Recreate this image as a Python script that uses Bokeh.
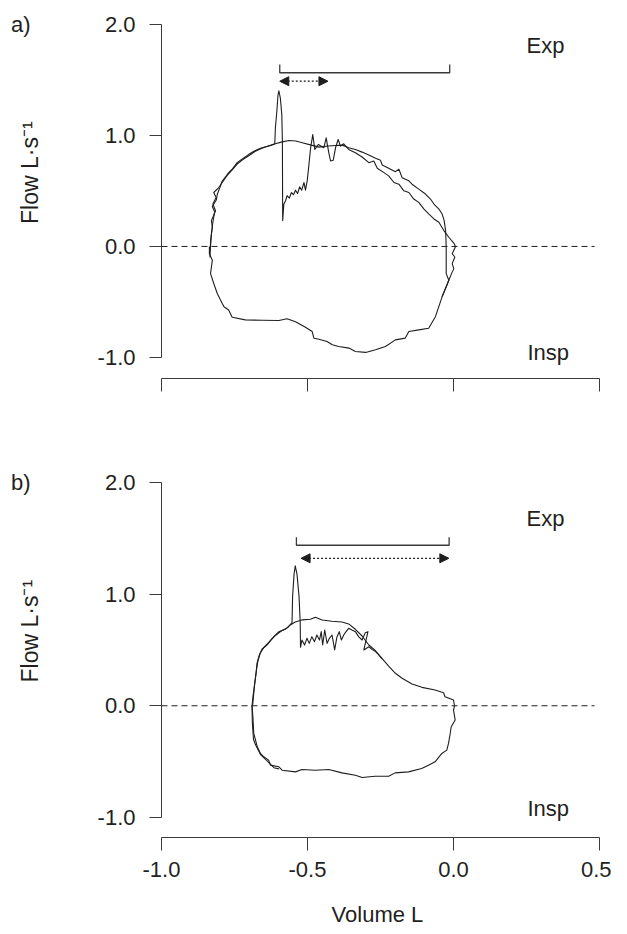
from bokeh.plotting import figure
from bokeh.models import Range1d, FixedTicker, PrintfTickFormatter, Label, Arrow, NormalHead, LinearAxis
from bokeh.layouts import column
from bokeh.embed import file_html
from bokeh.resources import INLINE

# ---------------- data ----------------
y_ticks = [-1.0, 0.0, 1.0, 2.0]
x_ticks = [-1.0, -0.5, 0.0, 0.5]
zero_line_v = [-1.0, 0.483]
zero_line_f = [0.0, 0.0]

ctrl_a_v = [-0.836, -0.832, -0.829, -0.824, -0.818, -0.826, -0.812, -0.809, -0.800, -0.792,
            -0.780, -0.770, -0.757, -0.741, -0.722, -0.701, -0.682, -0.661, -0.640, -0.625,
            -0.610, -0.590, -0.564, -0.540, -0.518, -0.490, -0.461, -0.430, -0.404, -0.381,
            -0.359, -0.336, -0.313, -0.290, -0.267, -0.250, -0.244, -0.222, -0.199, -0.187,
            -0.176, -0.153, -0.142, -0.119, -0.096, -0.079, -0.067, -0.050, -0.039, -0.032,
            -0.027, -0.025, -0.025, -0.025, -0.016, -0.039, -0.062, -0.085, -0.119, -0.153,
            -0.165, -0.199, -0.233, -0.267, -0.301, -0.336, -0.358, -0.393, -0.415, -0.433,
            -0.461, -0.478, -0.484, -0.507, -0.541, -0.570, -0.598, -0.655, -0.713, -0.758,
            -0.770, -0.786, -0.798, -0.809, -0.821, -0.832, -0.826, -0.836, -0.836]
ctrl_a_f = [-0.07, 0.00, 0.11, 0.22, 0.31, 0.36, 0.42, 0.47, 0.53, 0.59,
            0.63, 0.665, 0.70, 0.755, 0.79, 0.83, 0.86, 0.885, 0.90, 0.91,
            0.925, 0.94, 0.955, 0.95, 0.935, 0.915, 0.895, 0.905, 0.91, 0.913,
            0.889, 0.874, 0.850, 0.824, 0.794, 0.776, 0.734, 0.704, 0.674, 0.695,
            0.620, 0.591, 0.561, 0.516, 0.472, 0.427, 0.382, 0.337, 0.293, 0.233,
            0.143, 0.0, -0.125, -0.245, -0.304, -0.454, -0.633, -0.737, -0.752, -0.767,
            -0.826, -0.842, -0.901, -0.931, -0.955, -0.946, -0.916, -0.901, -0.886, -0.857,
            -0.836, -0.827, -0.767, -0.728, -0.678, -0.651, -0.668, -0.665, -0.662, -0.638,
            -0.573, -0.543, -0.483, -0.424, -0.334, -0.245, -0.125, -0.066, 0.0]

nep_a_v = [-0.834, -0.832, -0.826, -0.829, -0.815, -0.824, -0.813, -0.821, -0.804, -0.792,
           -0.775, -0.758, -0.740, -0.720, -0.700, -0.680, -0.660, -0.635, -0.612,
           -0.610, -0.605, -0.601, -0.598, -0.593, -0.588, -0.586, -0.585,
           -0.581, -0.575, -0.570, -0.562, -0.555, -0.548, -0.541, -0.534, -0.527, -0.520,
           -0.512, -0.507, -0.501, -0.495, -0.490, -0.482, -0.475, -0.463, -0.444, -0.436,
           -0.427, -0.421, -0.412, -0.404, -0.395, -0.387, -0.376, -0.359,
           -0.336, -0.313, -0.290, -0.273, -0.261, -0.238, -0.222, -0.204, -0.187, -0.170,
           -0.153, -0.136, -0.119, -0.101, -0.085, -0.067, -0.050, -0.033, -0.016, 0.001,
           0.007, -0.0045, 0.0046, -0.0045, 0.0011, -0.0068, -0.016, -0.039]
nep_a_f = [-0.10, 0.054, 0.173, 0.233, 0.322, 0.382, 0.442, 0.486, 0.531, 0.576,
           0.64, 0.69, 0.745, 0.785, 0.82, 0.855, 0.88, 0.905, 0.925,
           1.068, 1.218, 1.367, 1.403, 1.337, 1.188, 0.949, 0.233,
           0.382, 0.412, 0.457, 0.436, 0.486, 0.466, 0.507, 0.477, 0.537, 0.507,
           0.576, 0.507, 0.591, 0.740, 0.874, 1.009, 0.874, 0.919, 0.889, 0.979,
           0.844, 0.770, 0.776, 0.889, 0.964, 0.904, 0.925, 0.874,
           0.844, 0.806, 0.755, 0.770, 0.704, 0.665, 0.636, 0.576, 0.561, 0.501,
           0.486, 0.427, 0.397, 0.337, 0.293, 0.248, 0.218, 0.143, 0.083, 0.030,
           0.0, -0.066, -0.095, -0.155, -0.200, -0.245, -0.304, -0.454]

ctrl_b_v = [-0.688, -0.684, -0.681, -0.676, -0.673, -0.665, -0.656, -0.639, -0.621, -0.598,
            -0.576, -0.559, -0.542, -0.519, -0.490, -0.473, -0.450, -0.416, -0.382, -0.359,
            -0.336, -0.313, -0.290, -0.267, -0.245, -0.222, -0.199, -0.176, -0.142, -0.108,
            -0.063, -0.034, -0.029, 0.000, 0.0035, 0.0001, 0.0058, -0.0079, -0.0113, -0.017,
            -0.023, -0.040, -0.063, -0.086, -0.109, -0.154, -0.200, -0.222, -0.268, -0.313,
            -0.336, -0.382, -0.427, -0.473, -0.519, -0.541, -0.587, -0.598, -0.627, -0.633,
            -0.650, -0.661, -0.672, -0.684, -0.687, -0.690]
ctrl_b_f = [0.0, 0.111, 0.201, 0.291, 0.380, 0.455, 0.506, 0.544, 0.604, 0.664,
            0.685, 0.724, 0.751, 0.769, 0.775, 0.793, 0.769, 0.757, 0.751, 0.733,
            0.685, 0.625, 0.544, 0.493, 0.425, 0.356, 0.291, 0.246, 0.195, 0.165,
            0.141, 0.117, 0.081, 0.051, 0.0, -0.039, -0.128, -0.188, -0.248, -0.337,
            -0.397, -0.427, -0.502, -0.532, -0.562, -0.592, -0.601, -0.631, -0.631, -0.642,
            -0.622, -0.601, -0.571, -0.577, -0.571, -0.592, -0.577, -0.547, -0.532, -0.487,
            -0.457, -0.427, -0.368, -0.248, -0.099, 0.0]

nep_b_v = [-0.598, -0.615, -0.640, -0.660, -0.678, -0.685, -0.689, -0.690, -0.686, -0.680,
           -0.676, -0.670, -0.662, -0.650, -0.630, -0.610, -0.590, -0.568, -0.553,
           -0.551, -0.546, -0.542, -0.536, -0.529, -0.525, -0.524,
           -0.519, -0.510, -0.502, -0.494, -0.485, -0.476, -0.468, -0.459, -0.453, -0.448,
           -0.441, -0.433, -0.425, -0.416, -0.407, -0.399, -0.391, -0.384, -0.376, -0.368,
           -0.359, -0.348, -0.336, -0.325, -0.313, -0.302, -0.293, -0.307, -0.290, -0.279,
           -0.267, -0.256, -0.245]
nep_b_f = [-0.565, -0.555, -0.49, -0.44, -0.35, -0.30, -0.15, 0.0, 0.10, 0.21,
           0.30, 0.40, 0.47, 0.52, 0.575, 0.63, 0.67, 0.70, 0.745,
           0.98, 1.18, 1.253, 1.18, 0.98, 0.75, 0.524,
           0.589, 0.544, 0.604, 0.559, 0.619, 0.574, 0.634, 0.589, 0.664, 0.544,
           0.679, 0.559, 0.604, 0.634, 0.500, 0.619, 0.664, 0.589, 0.634, 0.664,
           0.694, 0.679, 0.664, 0.619, 0.589, 0.655, 0.664, 0.500, 0.529, 0.505,
           0.485, 0.455, 0.42]

bar_a_v = [-0.595, -0.595, -0.013, -0.013]
bar_a_f = [1.64, 1.565, 1.565, 1.64]
arrow_a_v = [-0.595, -0.430]
arrow_a_f = 1.489
bar_b_v = [-0.538, -0.538, -0.015, -0.015]
bar_b_f = [1.51, 1.438, 1.438, 1.51]
arrow_b_v = [-0.522, -0.016]
arrow_b_f = 1.321

panel_letters = ["a)", "b)"]
exp_pos = [(0.25, 1.815), (0.25, 1.677)]
insp_pos = [(0.253, -0.952), (0.253, -0.924)]
y_label = "\u00a0" * 10 + "Flow  L\u00b7s\u207b\u00b9"
x_label = "Volume  L"

FONT = "Liberation Sans"
TXT = "#231f20"
LINE = "#1e1e1e"
AX = "#3a3a3a"


def make_panel(idx, height, top, bottom, ystart, show_xlabels):
    p = figure(width=611, height=height, x_range=Range1d(-1.0, 0.5), y_range=Range1d(ystart, 2.0),
               min_border_left=161, min_border_right=12, min_border_top=top, min_border_bottom=bottom,
               toolbar_location=None, output_backend="svg", title=None)
    p.outline_line_color = None
    p.xgrid.visible = False
    p.ygrid.visible = False

    ya = p.yaxis[0]
    ya.bounds = (-1.0, 2.0)
    ya.ticker = FixedTicker(ticks=y_ticks)
    ya.formatter = PrintfTickFormatter(format="%.1f")
    ya.major_tick_out = 12
    ya.major_tick_in = 0
    ya.minor_tick_line_color = None
    ya.axis_line_color = AX
    ya.major_tick_line_color = AX
    ya.major_label_text_font = FONT
    ya.major_label_text_font_size = "22px"
    ya.major_label_text_color = TXT
    ya.major_label_standoff = 14
    ya.axis_label = y_label
    ya.axis_label_text_font = FONT
    ya.axis_label_text_font_size = "23px"
    ya.axis_label_text_font_style = "normal"
    ya.axis_label_text_color = TXT
    ya.axis_label_standoff = 52

    # panel letter shown as the only label of a bare outer axis
    la = LinearAxis(ticker=FixedTicker(ticks=[2.0]), major_label_overrides={2.0: panel_letters[idx]})
    la.axis_line_color = None
    la.major_tick_line_color = None
    la.minor_tick_line_color = None
    la.major_tick_out = 0
    la.major_tick_in = 0
    la.major_label_standoff = -17
    la.major_label_text_font = FONT
    la.major_label_text_font_size = "22px"
    la.major_label_text_color = TXT
    p.add_layout(la, "left")

    xa = p.xaxis[0]
    xa.ticker = FixedTicker(ticks=x_ticks)
    xa.formatter = PrintfTickFormatter(format="%.1f")
    xa.major_tick_out = 13
    xa.major_tick_in = 0
    xa.minor_tick_line_color = None
    xa.axis_line_color = AX
    xa.major_tick_line_color = AX
    xa.major_label_text_font = FONT
    xa.major_label_text_font_size = "22px"
    xa.major_label_standoff = 11
    if show_xlabels:
        xa.major_label_text_color = TXT
        xa.axis_label = x_label
        xa.axis_label_text_font = FONT
        xa.axis_label_text_font_size = "22px"
        xa.axis_label_text_font_style = "normal"
        xa.axis_label_text_color = TXT
        xa.axis_label_standoff = 22
    else:
        xa.major_label_text_color = None

    p.line(zero_line_v, zero_line_f, line_color=LINE, line_width=1, line_dash="6 4")

    if idx == 0:
        loops = [(ctrl_a_v, ctrl_a_f), (nep_a_v, nep_a_f)]
        bar_v, bar_f, arr_v, arr_f = bar_a_v, bar_a_f, arrow_a_v, arrow_a_f
    else:
        loops = [(ctrl_b_v, ctrl_b_f), (nep_b_v, nep_b_f)]
        bar_v, bar_f, arr_v, arr_f = bar_b_v, bar_b_f, arrow_b_v, arrow_b_f
    for lv, lf in loops:
        p.line(lv, lf, line_color=LINE, line_width=1.1, line_join="round")

    p.line(bar_v, bar_f, line_color=AX, line_width=1.3)
    p.add_layout(Arrow(start=NormalHead(size=9, fill_color=LINE, line_color=LINE),
                       end=NormalHead(size=9, fill_color=LINE, line_color=LINE),
                       x_start=arr_v[0], y_start=arr_f, x_end=arr_v[1], y_end=arr_f,
                       line_color=LINE, line_width=1.2, line_dash="2 2"))

    ex, ey = exp_pos[idx]
    ix, iy = insp_pos[idx]
    for (tx, ty, t) in [(ex, ey, "Exp"), (ix, iy, "Insp")]:
        p.add_layout(Label(x=tx, y=ty, text=t, text_font=FONT, text_font_size="22px",
                           text_color=TXT, text_align="left", text_baseline="alphabetic"))
    return p


pa = make_panel(0, 436, 24, 58, -1.19, False)
pb = make_panel(1, 498, 46, 97, -1.18, True)

layout = column(pa, pb, spacing=0)
open("out.html", "w").write(file_html(layout, INLINE))
